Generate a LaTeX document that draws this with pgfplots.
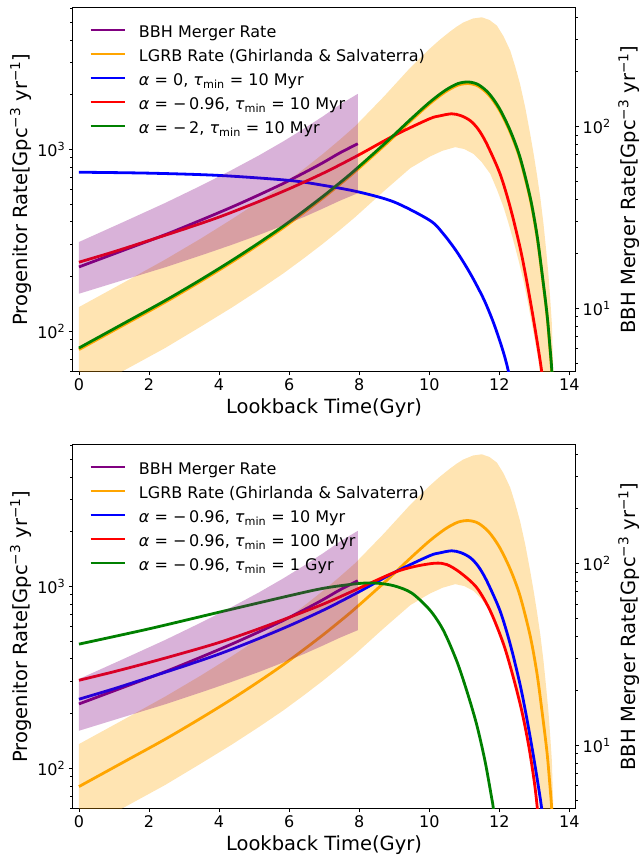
\documentclass[border=0pt]{standalone}
\usepackage{fontspec}
\setmainfont{DejaVu Sans}
\usepackage{pgfplots}
\usepackage{pgfplotstable}
\pgfplotsset{compat=1.18}

\definecolor{cpurple}{HTML}{800080}
\definecolor{corange}{HTML}{FFA500}
\definecolor{cblue}{HTML}{0000FF}
\definecolor{cred}{HTML}{FF0000}
\definecolor{cgreen}{HTML}{008000}

\newcommand\tickfont{\fontsize{16bp}{19bp}\selectfont}
\newcommand\labfont{\fontsize{19.5bp}{23bp}\selectfont}

% LGRB rate (Ghirlanda & Salvaterra), progenitor units
\pgfplotstableread{
t y
0 79.4
1.29 108.7
2.46 144.6
3.47 188.2
4.36 240.0
5.14 300.8
5.83 371.0
6.43 451.6
6.97 542.3
7.45 643.8
7.88 755.2
8.77 1074
9.46 1431
10.01 1782
10.46 2074
10.82 2258
11.12 2303
11.4 2228
11.7 1995
12.0 1650
12.31 1246
12.59 889
12.88 536
13.07 337
13.21 212
13.36 123
13.45 78
13.50 58
13.56 34
}\lgrb

% LGRB band: upper edge, then lower edge backwards
\pgfplotstableread{
t y
0 136
1.29 186
2.46 248
3.47 323
4.36 413
5.14 518
5.83 641
6.43 784
6.97 947
7.45 1133
7.88 1340
8.7 1950
9.46 2818
10.02 3590
10.3 4010
10.59 4446
10.78 4730
10.97 4990
11.25 5250
11.5 5330
11.72 5150
11.93 4800
12.12 4190
12.31 3500
12.45 2870
12.59 2296
12.74 1700
12.88 1219
12.98 944
13.07 735
13.17 543
13.26 391
13.33 288
13.40 207
13.45 153
13.50 110
13.54 60
13.58 25
13.3 28
13.2 50
13.12 69
12.93 110
12.81 145
12.69 190
12.55 245
12.40 316
12.26 394
12.12 482
11.93 603
11.74 735
11.5 851
11.26 946
11.0 1005
10.74 1030
10.38 984
10.02 915
9.46 790
8.7 589
7.88 424
7.45 361
6.97 304
6.43 253
5.83 208
5.14 169
4.36 135
3.47 106
2.46 81
1.29 61
0 44.6
}\lgrbband

% BBH merger rate (drawn in progenitor units) and its band
\pgfplotstableread{
t y
0 226
1.29 280
2.46 340
3.47 408
4.36 482
5.14 563
5.83 650
6.43 745
6.97 847
7.45 958
7.96 1075
}\bbh

\pgfplotstableread{
t y
0 310
1.29 401
2.46 508
3.47 631
4.36 771
5.14 928
5.83 1107
6.43 1304
6.97 1524
7.45 1765
7.96 2023
7.96 575
7.45 523
6.97 474
6.43 426
5.83 382
5.14 339
4.36 299
3.47 261
2.46 225
1.29 192
0 161
}\bbhband

% alpha = 0, tau_min = 10 Myr
\pgfplotstableread{
t y
0 750
2 741
4 720
6 676
7 634
8 583
9 514
10.02 407
10.4 344
10.78 275
11.17 208
11.55 151
11.83 112
12.07 82
12.21 66
12.4 46
}\azero

% alpha = -0.96, tau_min = 10 Myr
\pgfplotstableread{
t y
0 240
1 274
2 316
3 365
4 425
5 505
6 608
7 745
7.96 927
9 1194
10 1473
10.3 1530
10.64 1571
10.9 1535
11.17 1440
11.4 1290
11.64 1075
12.02 735
12.31 482
12.59 290
12.78 190
12.97 118
13.16 70
13.3 45
}\aten

% alpha = -2, tau_min = 10 Myr
\pgfplotstableread{
t y
0 81
1.29 110.9
2.46 147.6
3.47 192
4.36 244.9
5.14 306.9
5.83 378.6
6.43 460.8
6.97 553.4
7.45 656.9
7.88 770.6
8.77 1096
9.46 1460
10.01 1818
10.46 2116
10.82 2304
11.12 2350
11.4 2273
11.7 2036
12.0 1684
12.31 1271
12.59 907
12.88 547
13.07 344
13.21 216
13.36 125
13.45 80
13.50 60
13.56 35
}\atwo

% alpha = -0.96, tau_min = 100 Myr
\pgfplotstableread{
t y
0 305
1 340
2 382
3 432
4 492
5 573
6 676
7 804
7.94 967
9 1194
9.6 1290
10.17 1343
10.5 1320
10.88 1194
11.35 988
11.74 735
12.12 482
12.40 316
12.64 207
12.83 136
12.97 92
13.05 70
13.15 45
}\ahund

% alpha = -0.96, tau_min = 1 Gyr
\pgfplotstableread{
t y
0 482
2 585
4 722
6 889
7 979
8 1039
8.5 1043
9 1008
9.5 920
10.02 741
10.40 575
10.78 391
11.07 267
11.35 175
11.59 110
11.78 69
11.83 60
11.95 38
}\agyr

\begin{document}
\begin{tikzpicture}
\path[use as bounding box] (0,0) rectangle (640bp,-855bp);

% top panel
\begin{semilogyaxis}[at={(72.3bp,-371.7bp)}, anchor=south west,
    scale only axis, width=503.4bp, height=364.4bp,
    xmin=-0.19, xmax=14.18, ymin=60, ymax=6050,
    xtick={0,2,4,6,8,10,12,14}, xticklabels={0,2,4,6,8,10,12,14},
    ytick={100,1000}, yticklabels={10\textsuperscript{2},10\textsuperscript{3}},
    minor ytick={60,70,80,90,200,300,400,500,600,700,800,900,2000,3000,4000,5000,6000},
    xtick pos=left, ytick pos=left,
    tick align=outside, major tick length=3.5bp, minor tick length=2bp,
    tick style={black, line width=0.8bp},
    axis line style={line width=0.8bp},
    tick label style={font=\tickfont},
    xlabel={Lookback Time(Gyr)},
    ylabel={Progenitor Rate[Gpc\textsuperscript{−3} yr\textsuperscript{−1}]},
    label style={font=\labfont},
    xlabel style={at={(axis description cs:0.5,-0.1)}, anchor=center},
    ylabel style={at={(axis description cs:-0.102,0.5)}, anchor=center},
    legend style={at={(axis description cs:0.0272,0.9616)}, anchor=north west,
      draw=none, fill=none, font=\tickfont, column sep=13bp,
      nodes={inner sep=0pt, text height=14bp, text depth=10bp}},
    legend cell align=left,
    legend image code/.code={\draw[#1] (0bp,5.5bp) -- (34bp,5.5bp);}]
  \addplot[fill=corange, fill opacity=0.3, draw=none, forget plot] table {\lgrbband};
  \addplot[cpurple, line width=2.8bp, smooth] table {\bbh};
  \addlegendentry{BBH Merger Rate}
  \addplot[corange, line width=2.8bp, smooth] table {\lgrb};
  \addlegendentry{LGRB Rate (Ghirlanda \& Salvaterra)}
  \addplot[cblue, line width=2.8bp, smooth] table {\azero};
  \addlegendentry{\textit{α} = 0, \textit{τ}\textsubscript{min} = 10 Myr}
  \addplot[cred, line width=2.8bp, smooth] table {\aten};
  \addlegendentry{\textit{α} = −\,0.96, \textit{τ}\textsubscript{min} = 10 Myr}
  \addplot[cgreen, line width=2.8bp, smooth] table {\atwo};
  \addlegendentry{\textit{α} = −\,2, \textit{τ}\textsubscript{min} = 10 Myr}
  \addplot[fill=cpurple, fill opacity=0.3, draw=none, forget plot] table {\bbhband};
\end{semilogyaxis}
\begin{semilogyaxis}[at={(72.3bp,-371.7bp)}, anchor=south west,
    scale only axis, width=503.4bp, height=364.4bp,
    xmin=-0.19, xmax=14.18, ymin=4.49, ymax=453,
    hide x axis, axis y line*=right,
    ytick={10,100}, yticklabels={10\textsuperscript{1},10\textsuperscript{2}},
    minor ytick={5,6,7,8,9,20,30,40,50,60,70,80,90,200,300,400},
    tick align=outside, major tick length=3.5bp, minor tick length=2bp,
    tick style={black, line width=0.8bp},
    axis line style={line width=0.8bp},
    tick label style={font=\tickfont},
    ylabel={BBH Merger Rate[Gpc\textsuperscript{−3} yr\textsuperscript{−1}]},
    label style={font=\labfont},
    ylabel style={at={(axis description cs:1.106,0.5)}, anchor=center}]
  \addplot[draw=none, forget plot] coordinates {(0,10) (14,100)};
\end{semilogyaxis}

% bottom panel
\begin{semilogyaxis}[at={(72.3bp,-808.7bp)}, anchor=south west,
    scale only axis, width=503.4bp, height=364.4bp,
    xmin=-0.19, xmax=14.18, ymin=60, ymax=6050,
    xtick={0,2,4,6,8,10,12,14}, xticklabels={0,2,4,6,8,10,12,14},
    ytick={100,1000}, yticklabels={10\textsuperscript{2},10\textsuperscript{3}},
    minor ytick={60,70,80,90,200,300,400,500,600,700,800,900,2000,3000,4000,5000,6000},
    xtick pos=left, ytick pos=left,
    tick align=outside, major tick length=3.5bp, minor tick length=2bp,
    tick style={black, line width=0.8bp},
    axis line style={line width=0.8bp},
    tick label style={font=\tickfont},
    xlabel={Lookback Time(Gyr)},
    ylabel={Progenitor Rate[Gpc\textsuperscript{−3} yr\textsuperscript{−1}]},
    label style={font=\labfont},
    xlabel style={at={(axis description cs:0.5,-0.1)}, anchor=center},
    ylabel style={at={(axis description cs:-0.102,0.5)}, anchor=center},
    legend style={at={(axis description cs:0.0272,0.9616)}, anchor=north west,
      draw=none, fill=none, font=\tickfont, column sep=13bp,
      nodes={inner sep=0pt, text height=14bp, text depth=10bp}},
    legend cell align=left,
    legend image code/.code={\draw[#1] (0bp,5.5bp) -- (34bp,5.5bp);}]
  \addplot[fill=corange, fill opacity=0.3, draw=none, forget plot] table {\lgrbband};
  \addplot[cpurple, line width=2.8bp, smooth] table {\bbh};
  \addlegendentry{BBH Merger Rate}
  \addplot[corange, line width=2.8bp, smooth] table {\lgrb};
  \addlegendentry{LGRB Rate (Ghirlanda \& Salvaterra)}
  \addplot[cblue, line width=2.8bp, smooth] table {\aten};
  \addlegendentry{\textit{α} = −\,0.96, \textit{τ}\textsubscript{min} = 10 Myr}
  \addplot[cred, line width=2.8bp, smooth] table {\ahund};
  \addlegendentry{\textit{α} = −\,0.96, \textit{τ}\textsubscript{min} = 100 Myr}
  \addplot[cgreen, line width=2.8bp, smooth] table {\agyr};
  \addlegendentry{\textit{α} = −\,0.96, \textit{τ}\textsubscript{min} = 1 Gyr}
  \addplot[fill=cpurple, fill opacity=0.3, draw=none, forget plot] table {\bbhband};
\end{semilogyaxis}
\begin{semilogyaxis}[at={(72.3bp,-808.7bp)}, anchor=south west,
    scale only axis, width=503.4bp, height=364.4bp,
    xmin=-0.19, xmax=14.18, ymin=4.49, ymax=453,
    hide x axis, axis y line*=right,
    ytick={10,100}, yticklabels={10\textsuperscript{1},10\textsuperscript{2}},
    minor ytick={5,6,7,8,9,20,30,40,50,60,70,80,90,200,300,400},
    tick align=outside, major tick length=3.5bp, minor tick length=2bp,
    tick style={black, line width=0.8bp},
    axis line style={line width=0.8bp},
    tick label style={font=\tickfont},
    ylabel={BBH Merger Rate[Gpc\textsuperscript{−3} yr\textsuperscript{−1}]},
    label style={font=\labfont},
    ylabel style={at={(axis description cs:1.106,0.5)}, anchor=center}]
  \addplot[draw=none, forget plot] coordinates {(0,10) (14,100)};
\end{semilogyaxis}
\end{tikzpicture}
\end{document}
